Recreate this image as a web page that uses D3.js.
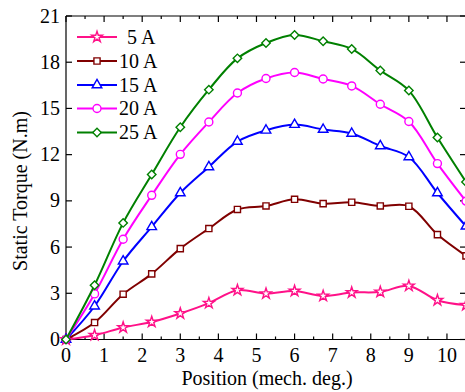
<!DOCTYPE html>
<html>
<head>
<meta charset="utf-8">
<script src="https://cdn.jsdelivr.net/npm/d3@7"></script>
<style>
  html, body { margin: 0; padding: 0; background: #fff; }
  svg { display: block; }
  text { font-family: "Liberation Serif", "Times New Roman", serif; fill: #000; }
</style>
</head>
<body>
<svg id="chart" width="465" height="392"></svg>
<script>
// Rotor position (mechanical degrees)
const positions = [0, 0.75, 1.5, 2.25, 3, 3.75, 4.5, 5.25, 6, 6.75, 7.5, 8.25, 9, 9.75, 10.5];

// Static torque (N.m) for each phase current
const torque5A  = [0, 0.28, 0.78, 1.14, 1.69, 2.36, 3.20, 2.98, 3.15, 2.83, 3.05, 3.09, 3.48, 2.55, 2.23];
const torque10A = [0, 1.10, 2.94, 4.26, 5.90, 7.20, 8.44, 8.67, 9.10, 8.82, 8.91, 8.67, 8.65, 6.81, 5.43];
const torque15A = [0, 2.16, 5.08, 7.31, 9.51, 11.20, 12.85, 13.58, 13.95, 13.63, 13.37, 12.56, 11.85, 9.51, 7.35];
const torque20A = [0, 2.96, 6.51, 9.36, 12.02, 14.12, 16.00, 16.94, 17.33, 16.91, 16.46, 15.27, 14.15, 11.42, 8.98];
const torque25A = [0, 3.52, 7.57, 10.71, 13.78, 16.22, 18.25, 19.25, 19.77, 19.36, 18.86, 17.46, 16.16, 13.11, 10.23];

const seriesNames = ["5 A", "10 A", "15 A", "20 A", "25 A"];
const seriesValues = [torque5A, torque10A, torque15A, torque20A, torque25A];

const xTicks = [0, 1, 2, 3, 4, 5, 6, 7, 8, 9, 10];
const yTicks = [0, 3, 6, 9, 12, 15, 18, 21];

const colors = ["#ff1188", "#800000", "#0000ff", "#ff00ff", "#008000"];
const shapes = ["star", "square", "triangle", "circle", "diamond"];

const svg = d3.select("#chart");
const plotL = 66, plotR = 466, plotT = 16, plotB = 339.5;
const fontSize = 20;

const x = d3.scaleLinear().domain([0, 10.5]).range([plotL, plotR]);
const y = d3.scaleLinear().domain([0, 21]).range([plotB, plotT]);

// Frame and inward ticks
const axisG = svg.append("g").attr("stroke", "#000").attr("stroke-width", 1.2);
axisG.append("line").attr("x1", plotL).attr("x2", plotR).attr("y1", plotB).attr("y2", plotB);
axisG.append("line").attr("x1", plotL).attr("x2", plotR).attr("y1", plotT).attr("y2", plotT);
axisG.append("line").attr("x1", plotL).attr("x2", plotL).attr("y1", plotT).attr("y2", plotB);
axisG.append("line").attr("x1", plotR).attr("x2", plotR).attr("y1", plotT).attr("y2", plotB);

const xMinor = d3.range(0.5, 10.5, 1);
xTicks.forEach(t => {
  axisG.append("line").attr("x1", x(t)).attr("x2", x(t)).attr("y1", plotB).attr("y2", plotB - 6);
  axisG.append("line").attr("x1", x(t)).attr("x2", x(t)).attr("y1", plotT).attr("y2", plotT + 6);
});
xMinor.forEach(t => {
  axisG.append("line").attr("x1", x(t)).attr("x2", x(t)).attr("y1", plotB).attr("y2", plotB - 3);
  axisG.append("line").attr("x1", x(t)).attr("x2", x(t)).attr("y1", plotT).attr("y2", plotT + 3);
});
yTicks.forEach(t => {
  axisG.append("line").attr("x1", plotL).attr("x2", plotL + 6).attr("y1", y(t)).attr("y2", y(t));
  axisG.append("line").attr("x1", plotR).attr("x2", plotR - 6).attr("y1", y(t)).attr("y2", y(t));
});

// Tick labels
svg.append("g").selectAll("text").data(xTicks).join("text")
  .attr("x", d => x(d)).attr("y", plotB + 22.5)
  .attr("text-anchor", "middle").attr("font-size", fontSize)
  .text(d => d);
svg.append("g").selectAll("text").data(yTicks).join("text")
  .attr("x", plotL - 6).attr("y", d => y(d) + 6.5)
  .attr("text-anchor", "end").attr("font-size", fontSize)
  .text(d => d);

// Axis titles
svg.append("text").attr("x", 267).attr("y", 385)
  .attr("text-anchor", "middle").attr("font-size", fontSize)
  .text("Position (mech. deg.)");
svg.append("text").attr("transform", "translate(27,191) rotate(-90)")
  .attr("text-anchor", "middle").attr("font-size", fontSize)
  .text("Static Torque (N.m)");

// Marker drawing
function symbolPath(shape) {
  switch (shape) {
    case "star": return d3.symbol(d3.symbolStar, 36)();
    case "square": return d3.symbol(d3.symbolSquare, 38)();
    case "triangle": return d3.symbol(d3.symbolTriangle, 40)();
    case "circle": return d3.symbol(d3.symbolCircle, 50)();
    case "diamond": return d3.symbol(d3.symbolSquare, 36)();
  }
}
function drawMarker(g, shape, color, cx, cy) {
  const rot = shape === "diamond" ? " rotate(45)" : "";
  g.append("path")
    .attr("d", symbolPath(shape))
    .attr("transform", `translate(${cx},${cy})${rot}`)
    .attr("fill", "#fff")
    .attr("stroke", color)
    .attr("stroke-width", 1.4);
}

const line = d3.line()
  .x((d, i) => x(positions[i]))
  .y(d => y(d))
  .curve(d3.curveCatmullRom.alpha(0.5));

seriesValues.forEach((vals, s) => {
  const g = svg.append("g");
  g.append("path").attr("d", line(vals))
    .attr("fill", "none").attr("stroke", colors[s]).attr("stroke-width", 2);
  vals.forEach((v, i) => drawMarker(g, shapes[s], colors[s], x(positions[i]), y(v)));
});

// Legend
const legendRows = [37, 61, 85, 108.5, 132.5];
seriesNames.forEach((name, s) => {
  const g = svg.append("g");
  const ly = legendRows[s];
  g.append("line").attr("x1", 77).attr("x2", 117).attr("y1", ly).attr("y2", ly)
    .attr("stroke", colors[s]).attr("stroke-width", 2);
  drawMarker(g, shapes[s], colors[s], 97, ly);
  g.append("text").attr("x", s === 0 ? 127 : 119).attr("y", ly + 6.5)
    .attr("font-size", fontSize).text(name);
});
</script>
</body>
</html>
